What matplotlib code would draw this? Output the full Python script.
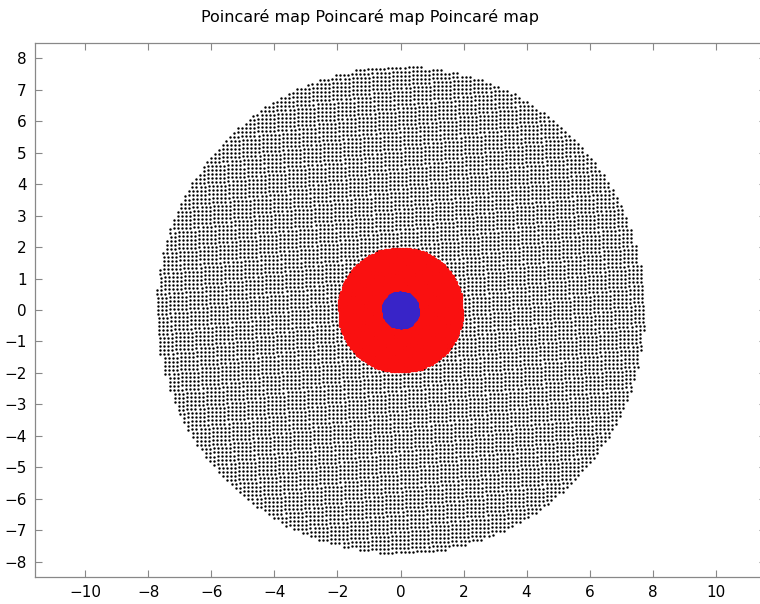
import matplotlib
matplotlib.use("Agg")
import matplotlib.pyplot as plt
import numpy as np

# orbit families: outer radius, lattice step of starting points, colour
ring_radius = [7.75, 1.98, 0.57]
ring_step = [0.128, 0.045, 0.03]
ring_color = ["black", "#fa1010", "#3824c8"]
ring_size = [1.75, 2.4, 2.2]
lattice_tilt = 0.05  # radians

xticks = [-10, -8, -6, -4, -2, 0, 2, 4, 6, 8, 10]
yticks = [-8, -7, -6, -5, -4, -3, -2, -1, 0, 1, 2, 3, 4, 5, 6, 7, 8]


def lattice(r, h, tilt):
    n = int(r / h) + 2
    g = np.arange(-n, n + 1) * h
    X, Y = np.meshgrid(g, g)
    c, s = np.cos(tilt), np.sin(tilt)
    Xr = (c * X - s * Y).ravel()
    Yr = (s * X + c * Y).ravel()
    keep = Xr**2 + Yr**2 <= r**2
    return Xr[keep], Yr[keep]


fig = plt.figure(figsize=(7.6, 6.04), dpi=100)
ax = fig.add_axes([35 / 760, 27 / 604, 731 / 760, 534 / 604])

for r, h, c, s in zip(ring_radius, ring_step, ring_color, ring_size):
    px, py = lattice(r, h, lattice_tilt)
    ax.plot(px, py, "o", ms=s, mew=0, color=c)

ax.set_xlim(-11.6, 11.6)
ax.set_ylim(-8.48, 8.48)
ax.set_xticks(xticks)
ax.set_yticks(yticks)
ax.tick_params(direction="in", top=True, right=True, length=5, width=0.8,
               color="#888888", labelsize=11, pad=6)
for sp in ax.spines.values():
    sp.set_color("#888888")
    sp.set_linewidth(0.9)

fig.text(370 / 760, 1 - 17 / 604, "Poincaré map Poincaré map Poincaré map",
         ha="center", va="center", fontsize=11.5)

fig.savefig("out.png", dpi=100)
